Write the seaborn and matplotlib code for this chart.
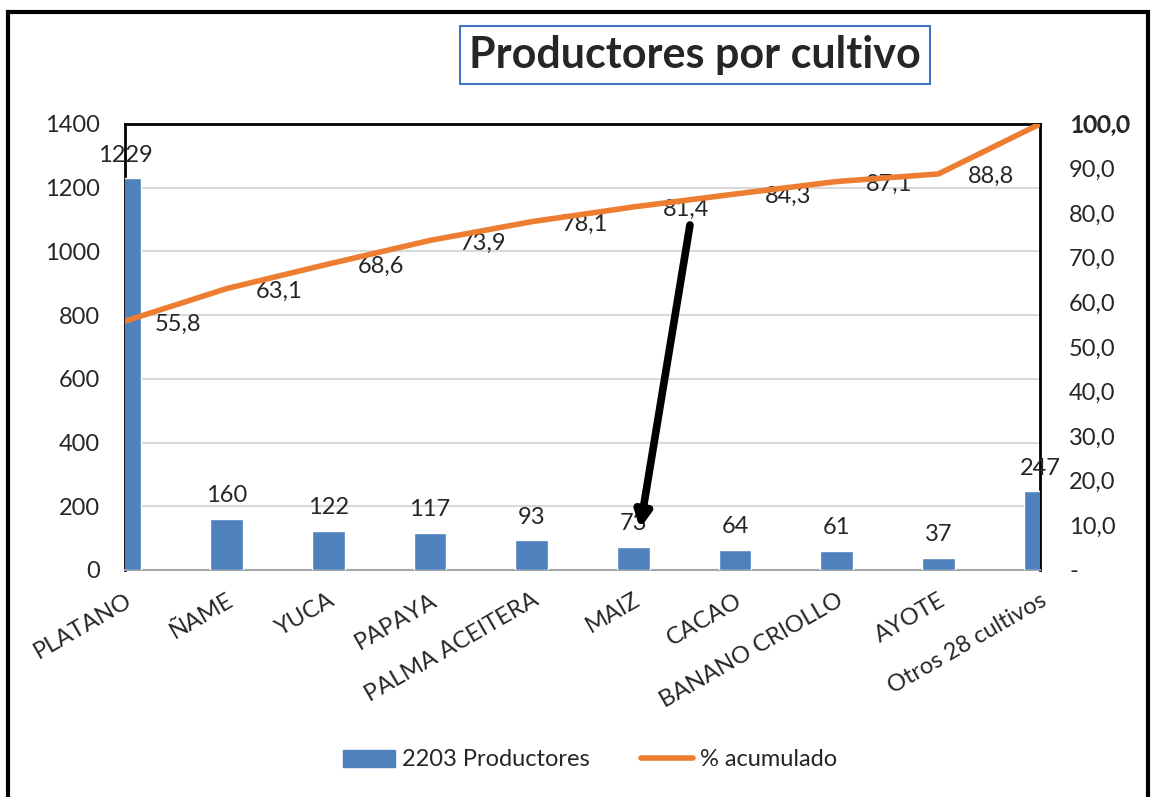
import numpy as np
import pandas as pd
import matplotlib.pyplot as plt
import seaborn as sns
from matplotlib.patches import Rectangle
from matplotlib.lines import Line2D
from matplotlib.patches import Patch

cultivos = ["PLATANO", "ÑAME", "YUCA", "PAPAYA", "PALMA ACEITERA", "MAIZ",
            "CACAO", "BANANO CRIOLLO", "AYOTE", "Otros 28 cultivos"]
productores = [1229, 160, 122, 117, 93, 73, 64, 61, 37, 247]
acumulado = [55.8, 63.1, 68.6, 73.9, 78.1, 81.4, 84.3, 87.1, 88.8, 100.0]

sns.set_style("white")
plt.rcParams['font.family'] = ['Lato', 'DejaVu Sans']

blue = "#4F81BD"
orange = "#ED7D31"
fs = 17

df = pd.DataFrame({"cultivo": cultivos, "productores": productores,
                   "pos": np.arange(len(cultivos)), "acum": acumulado})

fig = plt.figure(figsize=(11.53, 7.97), dpi=100)
ax = fig.add_axes([125/1153, 1-570/797, (1040-125)/1153, (570-124)/797])

sns.barplot(data=df, x="pos", y="productores", native_scale=True, width=0.32,
            color=blue, saturation=1, ax=ax, zorder=3)
ax.set_xlim(0, 9)
ax.set_ylim(0, 1400)
ax.set_yticks(range(0, 1401, 200))
ax.set_xticks(df["pos"])
ax.set_xticklabels(cultivos, rotation=30, ha="right", rotation_mode="anchor", fontsize=fs)
ax.tick_params(axis="x", length=0, pad=14)
ax.tick_params(axis="y", length=0, pad=18, labelsize=fs)
ax.set_xlabel("")
ax.set_ylabel("")
ax.yaxis.grid(True, color="#D9D9D9", lw=1.5, zorder=0)
ax.set_axisbelow(True)
for s in ["top", "left", "right"]:
    ax.spines[s].set_color("black")
    ax.spines[s].set_linewidth(2)
ax.spines["bottom"].set_color("#A6A6A6")
ax.spines["bottom"].set_linewidth(1.5)

for i, v in enumerate(productores):
    ax.text(i, v + 40, str(v), ha="center", va="bottom", fontsize=fs, zorder=5, clip_on=False)

ax2 = ax.twinx()
sns.lineplot(data=df, x="pos", y="acum", color=orange, lw=4, ax=ax2, zorder=4)
ax2.set_ylim(0, 100)
ax2.set_xlim(0, 9)
ax2.set_yticks(range(0, 101, 10))
ax2.set_yticklabels(["-"] + [f"{t},0" for t in range(10, 101, 10)])
ax2.tick_params(axis="y", length=0, pad=21, labelsize=fs)
ax2.set_ylabel("")
for s in ax2.spines.values():
    s.set_visible(False)

for i, v in enumerate(acumulado):
    txt = f"{v:.1f}".replace(".", ",")
    if i == len(acumulado) - 1:
        # this label falls on the axis tick label, giving the doubled look
        ax2.annotate(txt, (i, v), xytext=(21.8, 0.4), textcoords="offset points",
                     ha="left", va="center_baseline", fontsize=fs, annotation_clip=False)
    else:
        ax2.annotate(txt, (i, v), xytext=(38, -2), textcoords="offset points",
                     ha="center", va="center", fontsize=fs, annotation_clip=False)

ax2.annotate("", xy=(5.065, 130/14), xytext=(5.557, 1083/14),
             arrowprops=dict(arrowstyle="-|>,head_length=0.9,head_width=0.45",
                             color="black", lw=5.5, shrinkA=0, shrinkB=0))

fig.text(695/1153, 1-55/797, "Productores por cultivo", ha="center", va="center",
         fontsize=31, fontweight="bold",
         bbox=dict(boxstyle="square,pad=0.22", fc="white", ec="#4472C4", lw=1.5))

handles = [Patch(color=blue, label="2203 Productores"),
           Line2D([0], [0], color=orange, lw=4, solid_capstyle="round", label="% acumulado")]
fig.legend(handles=handles, loc="center", bbox_to_anchor=(590/1153, 1-760/797), ncol=2,
           frameon=False, fontsize=fs, handlelength=2.2, handletextpad=0.3,
           columnspacing=2.2)

fig.patches.append(Rectangle((8/1153, -0.05), (1148-8)/1153, 1.05-12/797,
                             transform=fig.transFigure, fill=False, ec="black", lw=3))

fig.savefig("out.png", dpi=100)
